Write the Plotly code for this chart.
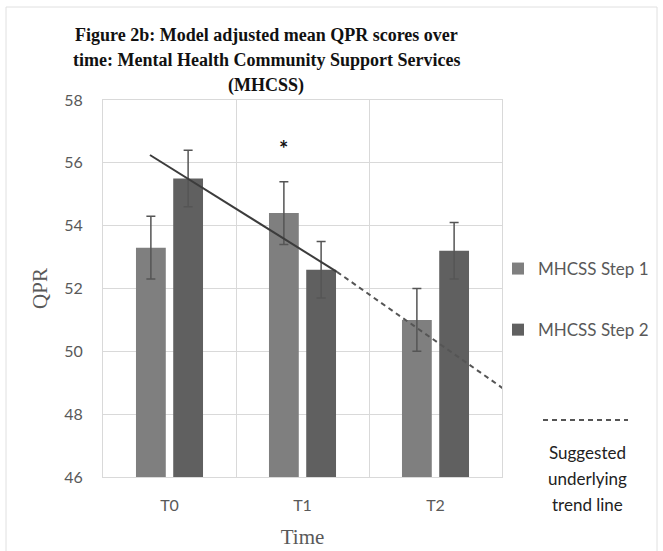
import plotly.graph_objects as go

# ---- data ----
x_pos = [0, 1, 2]
time_labels = ["T0", "T1", "T2"]
step1_values = [53.3, 54.4, 51.0]
step1_err = [1.0, 1.0, 1.0]
step2_values = [55.5, 52.6, 53.2]
step2_err = [0.9, 0.9, 0.9]
trend_solid_x = [-0.147, 1.259]
trend_solid_y = [56.25, 52.53]
trend_dash_x = [1.259, 2.545]
trend_dash_y = [52.53, 48.71]
star_x = 0.86
star_y = 56.45
y_ticks = [46, 48, 50, 52, 54, 56, 58]
title_lines = ["Figure 2b: Model adjusted mean QPR scores over",
               "time: Mental Health Community Support Services",
               "(MHCSS)"]
trend_label_lines = ["Suggested", "underlying", "trend line"]

W, H = 663, 551
L, R, T, B = 103, 161, 100, 74
pw, ph = W - L - R, H - T - B


def px(xp):
    return (xp - L) / pw


def py(yp):
    return (H - B - yp) / ph


C1 = "#7f7f7f"
C2 = "#606060"
ERR = "#555555"
TICK = "#595959"
GRID = "#d9d9d9"

fig = go.Figure()
fig.add_trace(go.Bar(
    x=x_pos, y=step1_values, name="MHCSS Step 1", marker_color=C1,
    marker_line_width=0, legendgroup="a",
    error_y=dict(type="data", array=step1_err, color=ERR, thickness=1.5, width=4.5),
))
fig.add_trace(go.Bar(
    x=x_pos, y=step2_values, name="MHCSS Step 2", marker_color=C2,
    marker_line_width=0, legendgroup="b",
    error_y=dict(type="data", array=step2_err, color=ERR, thickness=1.5, width=4.5),
))
fig.add_trace(go.Scatter(
    x=trend_solid_x, y=trend_solid_y, mode="lines", showlegend=False,
    line=dict(color="#3c3c3c", width=2),
))
fig.add_trace(go.Scatter(
    x=trend_dash_x, y=trend_dash_y, mode="lines", showlegend=False,
    line=dict(color="#555555", width=2, dash="5px,4px"),
))

fig.update_layout(
    width=W, height=H,
    margin=dict(l=L, r=R, t=T, b=B, autoexpand=False),
    paper_bgcolor="white", plot_bgcolor="white",
    barmode="group", bargap=0.44, bargroupgap=0.2,
    font=dict(family="Lato", size=16, color=TICK),
    legend=dict(
        x=px(498), y=py(251), xanchor="left", yanchor="top",
        font=dict(family="Lato", size=17, color=TICK),
        tracegroupgap=36, bgcolor="rgba(0,0,0,0)",
    ),
    showlegend=True,
)

fig.update_xaxes(
    range=[-0.5, 2.5], tickmode="array", tickvals=x_pos, ticktext=time_labels,
    showgrid=False, zeroline=False, automargin=False,
    showline=True, mirror=True, linecolor=GRID, linewidth=1,
    ticks="", ticklabelstandoff=14,
    tickfont=dict(family="Lato", size=16, color=TICK),
    minor=dict(showgrid=True, tick0=-0.5, dtick=1, gridcolor=GRID, gridwidth=1),
    title=dict(text="Time", font=dict(family="Liberation Serif", size=21, color=TICK), standoff=16),
)
fig.update_yaxes(
    range=[46, 58], tickmode="array", tickvals=y_ticks,
    showgrid=True, gridcolor=GRID, gridwidth=1, zeroline=False, automargin=False,
    showline=True, mirror=True, linecolor=GRID, linewidth=1,
    ticks="", ticklabelstandoff=16,
    tickfont=dict(family="Lato", size=16, color=TICK),
    title=dict(text="QPR", font=dict(family="Liberation Serif", size=21, color=TICK), standoff=10),
)

# title lines
for i, line in enumerate(title_lines):
    fig.add_annotation(xref="paper", yref="paper", x=px(266), y=py(35 + 25 * i),
                       text="<b>" + line + "</b>", showarrow=False,
                       xanchor="center", yanchor="middle",
                       font=dict(family="Liberation Serif", size=18, color="#111111"))

# asterisk
fig.add_annotation(x=star_x, y=star_y, text="<b>*</b>", showarrow=False,
                   font=dict(family="Lato", size=22, color="#111111"),
                   xanchor="center", yanchor="middle")

# legend for trend line
fig.add_shape(type="line", xref="paper", yref="paper",
              x0=px(543), x1=px(628), y0=py(420), y1=py(420),
              line=dict(color="#555555", width=2, dash="5px,4px"))
for i, line in enumerate(trend_label_lines):
    fig.add_annotation(xref="paper", yref="paper", x=px(587), y=py(452 + 26 * i),
                       text=line, showarrow=False,
                       xanchor="center", yanchor="middle",
                       font=dict(family="Lato", size=17, color="#222222"))

# outer border frame
fig.add_shape(type="rect", xref="paper", yref="paper",
              x0=px(6), x1=px(657), y0=py(560), y1=py(7),
              line=dict(color="#e0e0e0", width=1), layer="below")

fig.write_html("out.html")
